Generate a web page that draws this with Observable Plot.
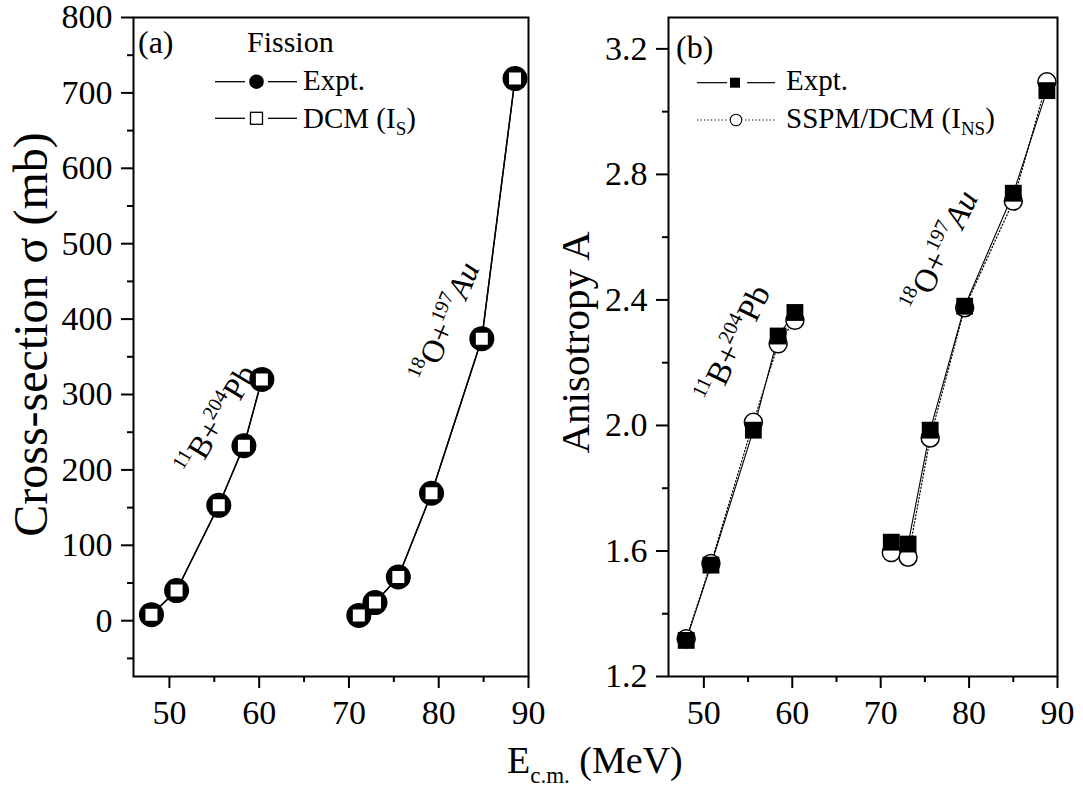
<!DOCTYPE html>
<html><head><meta charset="utf-8">
<script src="https://cdn.jsdelivr.net/npm/d3@7"></script>
<script src="https://cdn.jsdelivr.net/npm/@observablehq/plot@0.6"></script>
<style>
body{margin:0;background:#fff;}
#wrap{position:relative;width:1083px;height:787px;overflow:hidden;background:#fff;}
.panel{position:absolute;top:0;}
.panel svg{overflow:visible;}
</style></head><body><div id="wrap"></div>
<script>
// ---------------- data ----------------
// Panel (a): fission cross-section (mb)
const energyA_BPb = [48.0, 50.8, 55.5, 58.3, 60.3];
const sigmaExpt_BPb = [8, 40, 153, 232, 320];
const sigmaDCM_BPb = [8, 40, 153, 232, 320];
const energyA_OAu = [71.1, 72.9, 75.5, 79.2, 84.8, 88.5];
const sigmaExpt_OAu = [7, 24, 58, 169, 374, 719];
const sigmaDCM_OAu = [7, 24, 58, 169, 374, 719];

// Panel (b): anisotropy A
const energyB_BPb = [48.0, 50.8, 55.6, 58.4, 60.3];
const anisoExpt_BPb = [1.315, 1.555, 1.985, 2.285, 2.36];
const anisoSSPM_BPb = [1.32, 1.56, 2.01, 2.26, 2.335];
const energyB_OAu = [71.2, 73.1, 75.6, 79.5, 85.0, 88.8];
const anisoExpt_OAu = [1.628, 1.622, 1.985, 2.38, 2.74, 3.067];
const anisoSSPM_OAu = [1.595, 1.58, 1.96, 2.375, 2.715, 3.095];

// ticks
const xTicks = [50, 60, 70, 80, 90];
const xMinor = [55, 65, 75, 85];
const yTicksA = [0, 100, 200, 300, 400, 500, 600, 700, 800];
const yMinorA = [-50, 50, 150, 250, 350, 450, 550, 650, 750];
const yTicksB = [1.2, 1.6, 2.0, 2.4, 2.8, 3.2];
const yMinorB = [1.4, 1.8, 2.2, 2.6, 3.0];

// text
const systems = ["11B+204Pb", "18O+197Au"];
const yTitleA = "Cross-section σ (mb)";
const yTitleB = "Anisotropy A";

// ---------------- helpers ----------------
const FONT = "'Liberation Serif','Times New Roman',serif";
const NS = "http://www.w3.org/2000/svg";
const rows = (xs, ys, system) => xs.map((x, i) => ({x, y: ys[i], system}));

const richMap = {
  "11B+204Pb": [{t: "11", sup: true}, {t: "B+"}, {t: "204", sup: true}, {t: "Pb"}],
  "18O+197Au": [{t: "18", sup: true}, {t: "O+"}, {t: "197", sup: true}, {t: "Au", italic: true}]
};
function richText(el, segs, base) {
  el.textContent = "";
  let cur = 0;
  for (const s of segs) {
    const shift = s.sup ? -0.42 * base : s.sub ? 0.25 * base : 0;
    const ts = document.createElementNS(NS, "tspan");
    ts.textContent = s.t;
    if (shift !== cur) ts.setAttribute("dy", shift - cur);
    cur = shift;
    if (s.sup || s.sub) ts.setAttribute("font-size", s.size || 0.62 * base);
    if (s.italic) ts.setAttribute("font-style", "italic");
    el.appendChild(ts);
  }
}
function applyRich(svg, base) {
  d3.select(svg).selectAll("text").each(function () {
    const segs = richMap[this.textContent];
    if (segs) richText(this, segs, base);
  });
}
function addText(g, x, y, size, segs) {
  const t = g.append("text").attr("x", x).attr("y", y)
    .attr("font-size", size).attr("font-family", FONT).attr("fill", "black")
    .attr("text-anchor", "start");
  richText(t.node(), segs, size);
  return t;
}

const wrap = document.getElementById("wrap");
function place(svg, left) {
  const d = document.createElement("div");
  d.className = "panel";
  d.style.left = left + "px";
  d.appendChild(svg);
  wrap.appendChild(d);
}

// ---------------- panel (a) ----------------
const dataA_expt = [...rows(energyA_BPb, sigmaExpt_BPb, systems[0]), ...rows(energyA_OAu, sigmaExpt_OAu, systems[1])];
const dataA_dcm = [...rows(energyA_BPb, sigmaDCM_BPb, systems[0]), ...rows(energyA_OAu, sigmaDCM_OAu, systems[1])];
const annoA = [
  {x: 55.3, y: 266, text: systems[0], rotate: -59},
  {x: 80.8, y: 396, text: systems[1], rotate: -67}
];

const plotA = Plot.plot({
  width: 560, height: 740,
  marginLeft: 133, marginRight: 32, marginTop: 17, marginBottom: 64,
  x: {domain: [46, 90]},
  y: {domain: [-74, 800]},
  style: {fontFamily: FONT, fontSize: "34px", color: "black", background: "transparent"},
  marks: [
    Plot.axisX(xTicks, {tickSize: 12, tickPadding: 11, strokeWidth: 2, fontSize: 34, label: null}),
    Plot.axisX(xMinor, {tickSize: 6, strokeWidth: 2, tickFormat: () => "", label: null}),
    Plot.axisY(yTicksA, {tickSize: 12, tickPadding: 9, strokeWidth: 2, fontSize: 34, label: null}),
    Plot.axisY(yMinorA, {tickSize: 6, strokeWidth: 2, tickFormat: () => "", label: null}),
    Plot.line(dataA_expt, {x: "x", y: "y", z: "system", stroke: "black", strokeWidth: 1.4}),
    Plot.line(dataA_dcm, {x: "x", y: "y", z: "system", stroke: "black", strokeWidth: 1.4}),
    Plot.dot(dataA_expt, {x: "x", y: "y", r: 12.5, fill: "black", stroke: "none"}),
    Plot.dot(dataA_dcm, {x: "x", y: "y", symbol: "square", r: 7.9, fill: "white", stroke: "black", strokeWidth: 2}),
    Plot.frame({stroke: "black", strokeWidth: 2}),
    Plot.text(annoA, {x: "x", y: "y", text: "text", rotate: "rotate", fontSize: 32, fill: "black"}),
    Plot.text([yTitleA], {frameAnchor: "left", textAnchor: "middle", lineAnchor: "middle", dx: -102, dy: -12.5, rotate: -90, fontSize: 48, fill: "black"})
  ]
});
applyRich(plotA, 32);
{
  const g = d3.select(plotA).append("g");
  addText(g, 138, 53, 32, [{t: "(a)"}]);
  addText(g, 247, 52, 30, [{t: "Fission"}]);
  // row 1: Expt.
  g.append("line").attr("x1", 215).attr("x2", 245).attr("y1", 81.7).attr("y2", 81.7).attr("stroke", "black").attr("stroke-width", 1.3);
  g.append("line").attr("x1", 268).attr("x2", 297).attr("y1", 81.7).attr("y2", 81.7).attr("stroke", "black").attr("stroke-width", 1.3);
  g.append("circle").attr("cx", 256.5).attr("cy", 81.7).attr("r", 7.3).attr("fill", "black");
  addText(g, 303, 90, 29, [{t: "Expt."}]);
  // row 2: DCM
  g.append("line").attr("x1", 215).attr("x2", 245).attr("y1", 118.3).attr("y2", 118.3).attr("stroke", "black").attr("stroke-width", 1.3);
  g.append("line").attr("x1", 268).attr("x2", 297).attr("y1", 118.3).attr("y2", 118.3).attr("stroke", "black").attr("stroke-width", 1.3);
  g.append("rect").attr("x", 250.5).attr("y", 112.3).attr("width", 12).attr("height", 12).attr("fill", "white").attr("stroke", "black").attr("stroke-width", 1.3);
  addText(g, 303, 128, 29, [{t: "DCM (I"}, {t: "S", sub: true, size: 19}, {t: ")"}]);
}
place(plotA, 0);

// ---------------- panel (b) ----------------
const dataB_expt = [...rows(energyB_BPb, anisoExpt_BPb, systems[0]), ...rows(energyB_OAu, anisoExpt_OAu, systems[1])];
const dataB_sspm = [...rows(energyB_BPb, anisoSSPM_BPb, systems[0]), ...rows(energyB_OAu, anisoSSPM_OAu, systems[1])];
const annoB = [
  {x: 53.4, y: 2.26, text: systems[0], rotate: -64},
  {x: 76.8, y: 2.555, text: systems[1], rotate: -64}
];
const plotB = Plot.plot({
  width: 523, height: 740,
  marginLeft: 108, marginRight: 26, marginTop: 17, marginBottom: 64,
  x: {domain: [46, 90]},
  y: {domain: [1.2, 3.3]},
  style: {fontFamily: FONT, fontSize: "34px", color: "black", background: "transparent"},
  marks: [
    Plot.axisX(xTicks, {tickSize: 12, tickPadding: 11, strokeWidth: 2, fontSize: 34, label: null}),
    Plot.axisX(xMinor, {tickSize: 6, strokeWidth: 2, tickFormat: () => "", label: null}),
    Plot.axisY(yTicksB, {tickSize: 12, tickPadding: 9, strokeWidth: 2, fontSize: 34, tickFormat: d3.format(".1f"), label: null}),
    Plot.axisY(yMinorB, {tickSize: 6, strokeWidth: 2, tickFormat: () => "", label: null}),
    Plot.line(dataB_sspm, {x: "x", y: "y", z: "system", stroke: "black", strokeWidth: 1.2, strokeDasharray: "1.3,2.2"}),
    Plot.line(dataB_expt, {x: "x", y: "y", z: "system", stroke: "black", strokeWidth: 1.1}),
    Plot.dot(dataB_sspm, {x: "x", y: "y", r: 9, fill: "white", stroke: "black", strokeWidth: 1.5}),
    Plot.dot(dataB_expt, {x: "x", y: "y", symbol: "square", r: 9.5, fill: "black", stroke: "none"}),
    Plot.frame({stroke: "black", strokeWidth: 2}),
    Plot.text(annoB, {x: "x", y: "y", text: "text", rotate: "rotate", fontSize: 33, fill: "black"}),
    Plot.text([yTitleB], {frameAnchor: "left", textAnchor: "middle", lineAnchor: "middle", dx: -93, dy: -4.5, rotate: -90, fontSize: 41, fill: "black"})
  ]
});
applyRich(plotB, 33);
{
  const g = d3.select(plotB).append("g").attr("transform", "translate(-560,0)");
  addText(g, 676, 58, 32, [{t: "(b)"}]);
  // row 1: Expt.
  g.append("line").attr("x1", 697).attr("x2", 727).attr("y1", 82.7).attr("y2", 82.7).attr("stroke", "black").attr("stroke-width", 1.2);
  g.append("line").attr("x1", 747).attr("x2", 775).attr("y1", 82.7).attr("y2", 82.7).attr("stroke", "black").attr("stroke-width", 1.2);
  g.append("rect").attr("x", 730).attr("y", 77.7).attr("width", 10).attr("height", 10).attr("fill", "black");
  addText(g, 786, 90, 29, [{t: "Expt."}]);
  // row 2: SSPM/DCM
  g.append("line").attr("x1", 697).attr("x2", 727).attr("y1", 120).attr("y2", 120).attr("stroke", "black").attr("stroke-width", 1.1).attr("stroke-dasharray", "1.3,2.2");
  g.append("line").attr("x1", 745).attr("x2", 775).attr("y1", 120).attr("y2", 120).attr("stroke", "black").attr("stroke-width", 1.1).attr("stroke-dasharray", "1.3,2.2");
  g.append("circle").attr("cx", 736).attr("cy", 120).attr("r", 5.8).attr("fill", "white").attr("stroke", "black").attr("stroke-width", 1.1);
  addText(g, 786, 128, 29, [{t: "SSPM/DCM (I"}, {t: "NS", sub: true, size: 19}, {t: ")"}]);
}
place(plotB, 560);

// ---------------- shared x title ----------------
{
  const svg = d3.create("svg").attr("width", 1083).attr("height", 787)
    .style("position", "absolute").style("left", 0).style("top", 0).style("pointer-events", "none");
  addText(svg, 507, 773, 38, [{t: "E"}, {t: "c.m.", sub: true, size: 23}, {t: " (MeV)"}]);
  wrap.appendChild(svg.node());
}
</script></body></html>
